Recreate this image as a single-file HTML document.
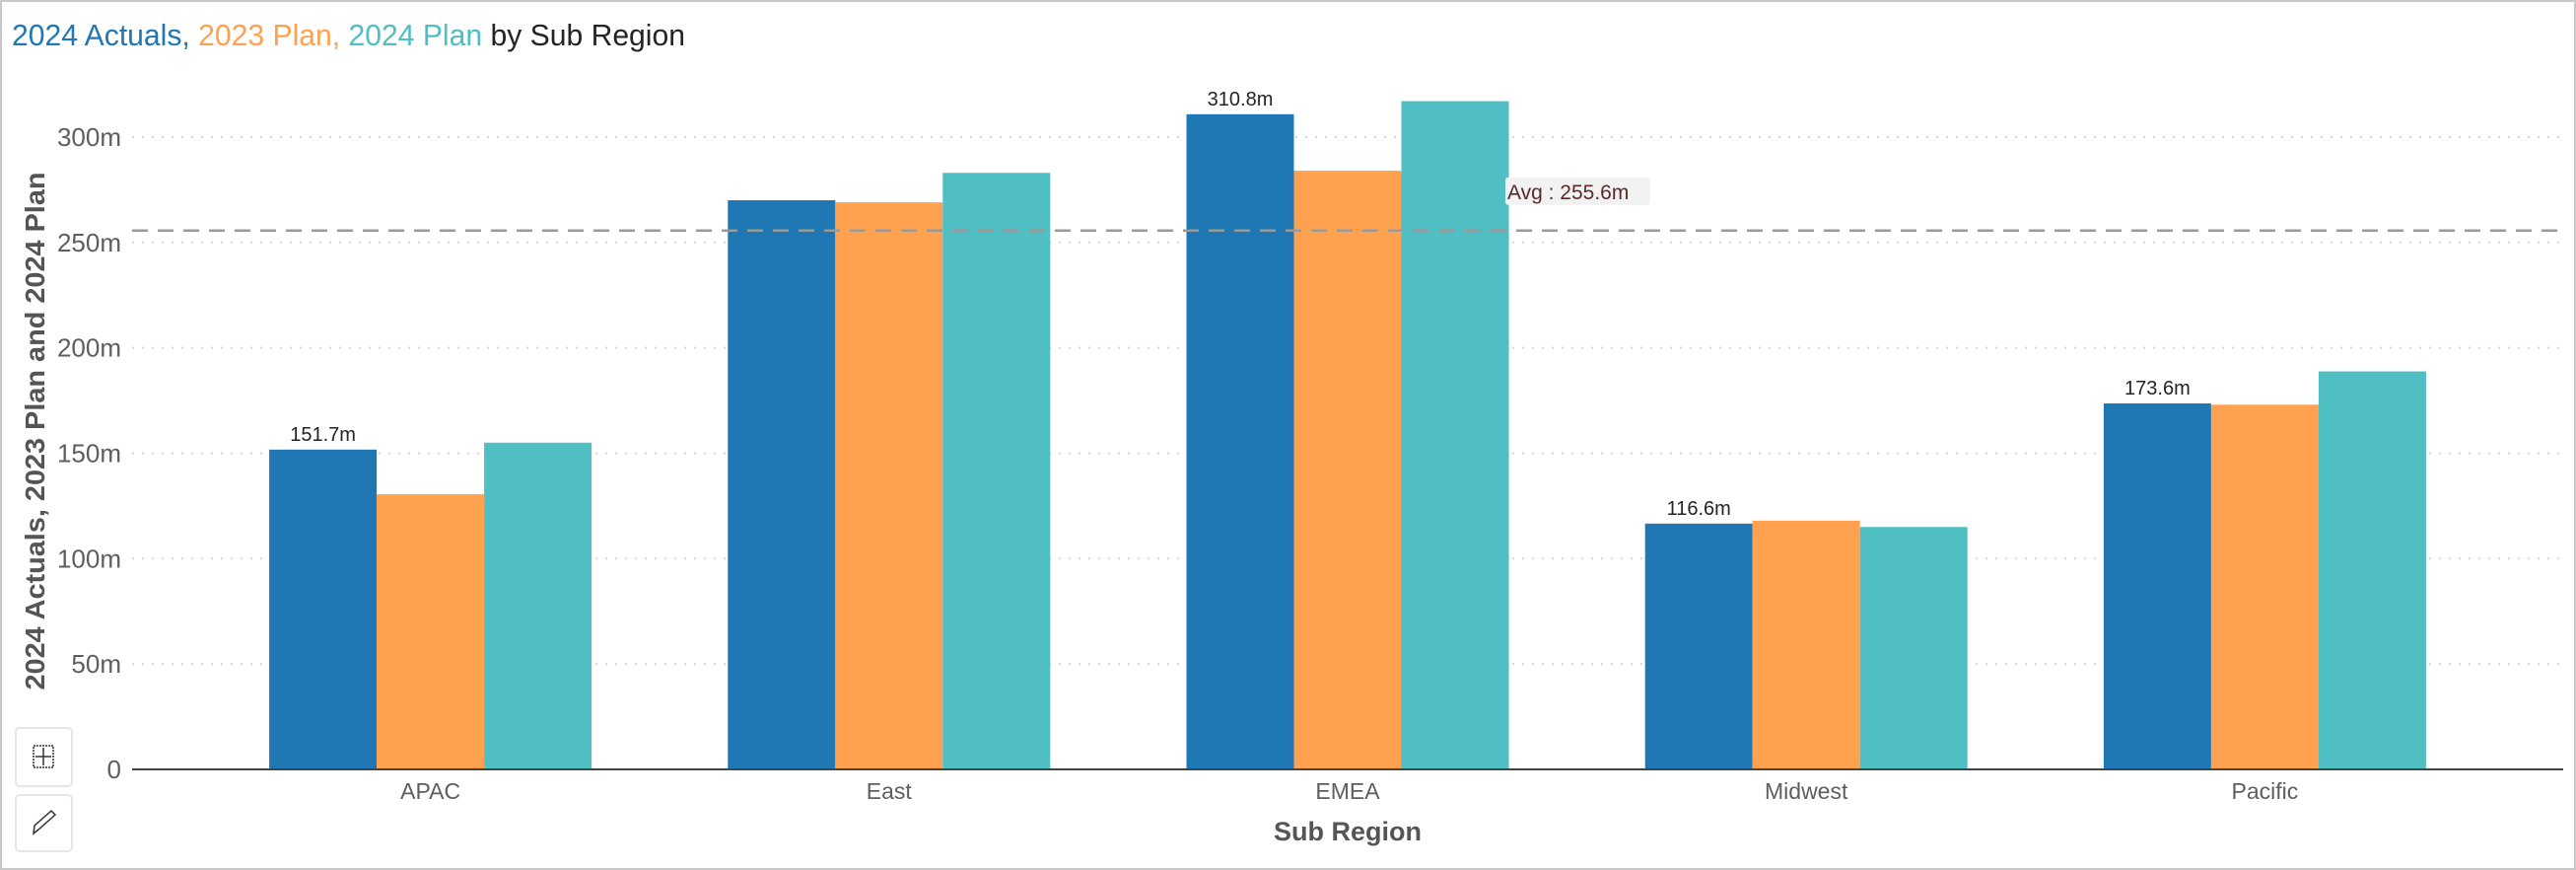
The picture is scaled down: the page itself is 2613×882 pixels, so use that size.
<!DOCTYPE html>
<html><head><meta charset="utf-8"><style>
html,body{margin:0;padding:0;background:#fff;}
svg{display:block;font-family:"Liberation Sans",sans-serif;}
</style></head><body>
<svg id="chart" width="2613" height="882" viewBox="0 0 2613 882">
<rect x="1" y="1" width="2611" height="880" fill="#fff" stroke="#c8c8c8" stroke-width="2"/>
<text x="12" y="46" font-size="31" textLength="683" lengthAdjust="spacingAndGlyphs"><tspan fill="#1f77b4">2024 Actuals, </tspan><tspan fill="#ffa14f">2023 Plan, </tspan><tspan fill="#4fbfc3">2024 Plan </tspan><tspan fill="#252423">by Sub Region</tspan></text>
<g id="grid"></g><g id="bars"></g><g id="labels"></g>
<text transform="translate(45,437) rotate(-90)" text-anchor="middle" font-size="28" font-weight="bold" fill="#555" textLength="525" lengthAdjust="spacingAndGlyphs">2024 Actuals, 2023 Plan and 2024 Plan</text>
<text x="1367" y="852" text-anchor="middle" font-size="27" font-weight="bold" fill="#555">Sub Region</text>
<g><rect x="16" y="738" width="57" height="59" rx="4" fill="#fff" stroke="#e6e6e6" stroke-width="2"/><rect x="34" y="756" width="20" height="22" fill="none" stroke="#333" stroke-width="1.5" stroke-dasharray="2 1"/><line x1="44" y1="758" x2="44" y2="776" stroke="#333" stroke-width="1.5"/><line x1="36" y1="767" x2="52" y2="767" stroke="#333" stroke-width="1.5"/></g>
<g><rect x="16" y="806" width="57" height="57" rx="4" fill="#fff" stroke="#e6e6e6" stroke-width="2"/><path d="M34 845 L35 837 L52 822 L56 826 L39 841 Z" fill="none" stroke="#333" stroke-width="1.5"/></g>
</svg>
<script>
const categories=["APAC","East","EMEA","Midwest","Pacific"];
const actuals2024=[151.7,270,310.8,116.6,173.6];
const plan2023=[130.5,269,284,118,173];
const plan2024=[155,283,317,115,188.8];
const yTicks=[0,50,100,150,200,250,300];
const tickLabels=["0","50m","100m","150m","200m","250m","300m"];
const avgValue=255.6;
const dataLabels=["151.7m",null,"310.8m","116.6m","173.6m"];

const NS="http://www.w3.org/2000/svg";
const plotL=134,plotR=2600,y0=780,pxPerM=2.137,outer=70,barW=109;
const band=(plotR-plotL-2*outer)/categories.length;
function y(v){return y0-v*pxPerM;}
function xc(i){return plotL+outer+band*(i+0.5);}
function mk(tag,attrs,parent){const e=document.createElementNS(NS,tag);for(const k in attrs)e.setAttribute(k,attrs[k]);parent.appendChild(e);return e;}
const grid=document.getElementById('grid'),bars=document.getElementById('bars'),labels=document.getElementById('labels');
yTicks.forEach((t,i)=>{
  if(t>0){const l=mk('line',{x1:plotL,x2:plotR,y1:y(t),y2:y(t),stroke:'#d6d6d6','stroke-width':2,'stroke-dasharray':'2 8'},grid);
  
  }
  const tx=mk('text',{x:123,y:y(t)+9,'text-anchor':'end','font-size':26,fill:'#605e5c'},grid);
  tx.textContent=tickLabels[i];
  
  
});
const series=[actuals2024,plan2023,plan2024],colors=['#1f77b4','#ffa14f','#4fbfc3'],snames=['actuals-2024','plan-2023','plan-2024'];
categories.forEach((c,i)=>{
  series.forEach((s,j)=>{
    const x=xc(i)-1.5*barW+j*barW;
    const r=mk('rect',{x:x,y:y(s[i]),width:barW,height:s[i]*pxPerM,fill:colors[j]},bars);
    
    
  });
  if(dataLabels[i]){const t=mk('text',{x:xc(i)-barW,y:y(actuals2024[i])-9,'text-anchor':'middle','font-size':20,fill:'#252423'},labels);
  t.textContent=dataLabels[i];
  
  }
  const cl=mk('text',{x:xc(i),y:810,'text-anchor':'middle','font-size':23,fill:'#605e5c'},labels);
  cl.textContent=c;
  
  
});
const ax=mk('line',{x1:plotL,x2:plotR,y1:y0,y2:y0,stroke:'#444','stroke-width':2},labels);


const av=mk('line',{x1:plotL,x2:plotR,y1:y(avgValue),y2:y(avgValue),stroke:'#9a9a9a','stroke-width':2.5,'stroke-dasharray':'16 10'},labels);


const ab=mk('rect',{x:1527,y:y(avgValue)-54,width:147,height:28,fill:'#f2f2f2',rx:3},labels);


const at=mk('text',{x:1529,y:y(avgValue)-32,'font-size':21,fill:'#5a2a2a'},labels);
at.textContent='Avg : '+avgValue+'m';


</script>
</body></html>
